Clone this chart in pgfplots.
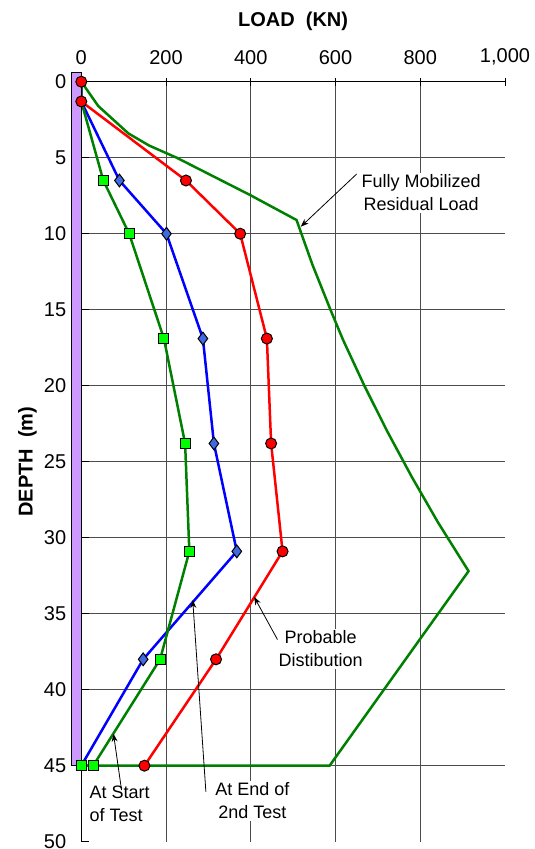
\documentclass[border=0pt]{standalone}
\usepackage{fontspec}
\setmainfont{Liberation Sans}
\usepackage{pgfplots}
\pgfplotsset{compat=1.18}
\usetikzlibrary{arrows.meta}
\definecolor{pilefill}{RGB}{204,153,255}
\definecolor{redser}{RGB}{255,0,0}
\definecolor{blueser}{RGB}{0,0,255}
\definecolor{bluemark}{RGB}{65,105,225}
\definecolor{greenser}{RGB}{0,128,0}
\definecolor{greenmark}{RGB}{0,255,0}
\begin{document}
\begin{tikzpicture}
\begin{axis}[
  at={(0,0)}, anchor=south west,
  scale only axis, width=211.85pt, height=380pt,
  xmin=0, xmax=1000, ymin=0, ymax=50,
  y dir=reverse,
  axis x line*=top, axis y line*=left,
  axis line style={-, line width=0.6pt, black},
  xtick={200,400,600,800},
  extra x ticks={0,1000},
  extra x tick style={xmajorgrids=false},
  ytick={5,10,...,45},
  extra y ticks={0,50},
  extra y tick style={ymajorgrids=false},
  xmajorgrids, ymajorgrids,
  grid style={black!70, line width=0.5pt},
  tick style={black, line width=0.5pt},
  major tick length=4pt,
  xtick align=center,
  ytick align=inside,
  /pgf/number format/assume math mode=true,
  /pgf/number format/1000 sep={,},
  ticklabel style={font=\fontsize{10}{12}\selectfont},
  yticklabel style={xshift=-4pt},
  xticklabel style={yshift=3pt},
  clip=false,
]
% Probable distribution
\addplot[redser, line width=1.25pt, mark=*, mark size=2.75pt,
  mark options={fill=redser, draw=black, line width=0.5pt}]
  coordinates {(0,0) (0,1.3) (247,6.5) (375,10) (438,16.9) (448,23.8) (475,30.9) (318,38) (149,45)};
% At end of 2nd test
\addplot[blueser, line width=1.25pt, mark=diamond*, mark size=3.2pt, mark indices={3,...,8},
  mark options={fill=bluemark, draw=black, line width=0.5pt}]
  coordinates {(0,0) (0,1.3) (90,6.5) (201,10) (287,16.9) (313,23.8) (367,30.9) (146,38) (0,45)};
% At start of test
\addplot[greenser, line width=1.25pt, mark=square*, mark size=2.5pt, mark indices={3,...,10},
  mark options={fill=greenmark, draw=black, line width=0.5pt}]
  coordinates {(0,0) (0,1.3) (52,6.5) (113,10) (195,16.9) (245,23.8) (255,30.9) (186,38) (28,45) (0,45)};
% Fully mobilized residual load
\addplot[greenser, line width=1.25pt, no markers]
  coordinates {(0,0) (40,1.6) (111,3.4) (160,4.2) (225,5.0) (398,7.45) (508,9.1) (545,12) (588,15) (618,17) (668,20) (722,23) (780,26) (842,29) (914,32.2) (586,45) (0,45)};
% pile
\addplot[fill=pilefill, draw=black, line width=0.6pt]
  coordinates {(-22.7,-0.6) (0,-0.6) (0,45) (-22.7,45)} -- cycle;
\addplot[only marks, mark=square*, mark size=2.5pt,
  mark options={fill=greenmark, draw=black, line width=0.5pt}]
  coordinates {(0,45)};
% annotations
\node[fill=white, align=center, inner sep=1pt, font=\fontsize{9}{11.3}\selectfont]
  at (axis cs:802,7.3) {Fully Mobilized\\Residual Load};
\draw[-{Stealth[length=4pt,width=3pt]}, line width=0.4pt] (axis cs:650,6.07) -- (axis cs:518,9.54);
\node[fill=white, align=center, inner sep=1pt, font=\fontsize{9}{11.3}\selectfont]
  at (axis cs:565,37.3) {Probable\\Distibution};
\draw[-{Stealth[length=4pt,width=3pt]}, line width=0.4pt] (axis cs:463,36.7) -- (axis cs:408,33.9);
\node[fill=white, align=center, inner sep=1pt, font=\fontsize{9}{11.3}\selectfont]
  at (axis cs:404,47.3) {At End of\\2nd Test};
\draw[-{Stealth[length=4pt,width=3pt]}, line width=0.4pt] (axis cs:294,46.7) -- (axis cs:263,34.1);
\node[fill=white, align=left, anchor=west, inner sep=1pt, font=\fontsize{9}{11.3}\selectfont]
  at (axis cs:14,47.5) {At Start\\of Test};
\draw[-{Stealth[length=4pt,width=3pt]}, line width=0.4pt] (axis cs:95,46.6) -- (axis cs:76,42.9);
\end{axis}
\node[font=\bfseries\fontsize{10}{12}\selectfont, anchor=base] at (105.9pt,407.35pt) {LOAD\ \ (KN)};
\node[font=\bfseries\fontsize{10}{12}\selectfont, rotate=90] at (-26.9pt,190pt) {DEPTH\ \ (m)};
\pgfresetboundingbox
\path[use as bounding box] (-40.65pt,-3.65pt) rectangle (226.35pt,420.85pt);
\end{tikzpicture}
\end{document}
